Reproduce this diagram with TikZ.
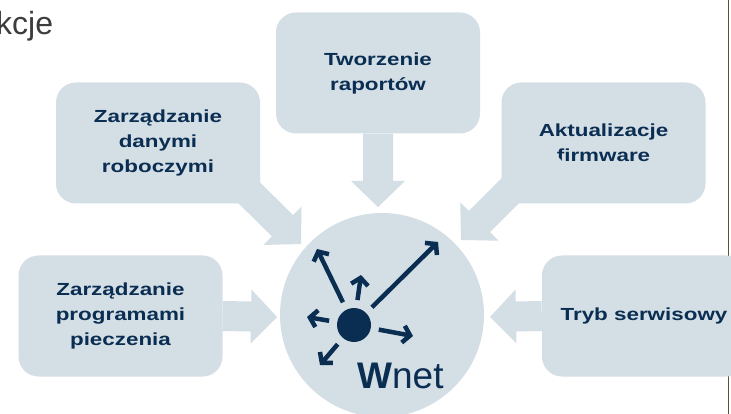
\documentclass[tikz,border=0pt]{standalone}
\usepackage{fontspec}
\setmainfont{Liberation Sans}
\newfontfamily\wideface{Liberation Sans}[FakeStretch=1.28]
\usetikzlibrary{calc,arrows.meta}
\definecolor{paleblue}{RGB}{212,222,229}
\definecolor{navyblue}{RGB}{10,45,82}
\definecolor{titlegray}{RGB}{60,60,60}
\definecolor{edgebrown}{RGB}{95,80,62}
\def\blockarrow(#1)(#2){%
	\path ($(#2)!26pt!(#1)$) coordinate (hb);
	\fill[paleblue] ($(#1)!15pt!90:(#2)$) -- ($(hb)!15pt!90:(#2)$) -- ($(hb)!27pt!90:(#2)$) -- (#2)
		-- ($(hb)!27pt!-90:(#2)$) -- ($(hb)!15pt!-90:(#2)$) -- ($(#1)!15pt!-90:(#2)$) -- cycle;}

\begin{document}
\begin{tikzpicture}[x=1pt, y=-1pt,
	box/.style={rectangle, rounded corners=20pt, fill=paleblue, minimum width=204pt, minimum height=121pt,
		align=center, text=navyblue, font=\wideface\bfseries\fontsize{17.5}{25}\selectfont},
	ray/.style={navyblue, line width=4.5pt, -{Straight Barb[length=7pt,width=17pt]}, shorten <=8pt}]
		%%%%% START %%%%%
		\useasboundingbox (0,0) rectangle (731,414);
		\clip (0,0) rectangle (731,414);
		\fill[white] (0,0) rectangle (731,414);
		
		\node[anchor=base west, inner sep=0, text=titlegray, font=\fontsize{32}{32}\selectfont] (title) at (-4,35) {kcje};
		\draw[line width=1.2pt, edgebrown] (728.6,0) -- (728.6,414);
		
		\node[box] (reports) at (378,73) {Tworzenie\\raportów};
		\node[box] (workdata) at (158,143) {Zarządzanie\\danymi\\roboczymi};
		\node[box] (firmware) at (603.5,143) {Aktualizacje\\firmware};
		\node[box] (programs) at (120.5,316) {Zarządzanie\\programami\\pieczenia};
		\node[box] (service) at (644,316) {Tryb serwisowy};
		
		\coordinate (reportstip) at (378,207);
		\coordinate (workdatafoot) at (222,166);
		\coordinate (workdatatip) at (301,244);
		\coordinate (firmwarefoot) at (551,150);
		\coordinate (firmwaretip) at (461,240);
		\coordinate (programstip) at (277,317);
		\coordinate (servicetip) at (490,317);
		
		\blockarrow(reports.south)(reportstip)
		\blockarrow(workdatafoot)(workdatatip)
		\blockarrow(firmwarefoot)(firmwaretip)
		\blockarrow(programs.east)(programstip)
		\blockarrow(service.west)(servicetip)
		
		\fill[paleblue] (382,315) circle (102);
		\node[circle, fill=navyblue, minimum size=34pt, inner sep=0] (hub) at (354,325) {};
		
		\coordinate (rayA) at (438,242);
		\coordinate (rayB) at (317,249);
		\coordinate (rayC) at (361,275);
		\coordinate (rayD) at (307,317);
		\coordinate (rayE) at (320,365);
		\coordinate (rayF) at (413,336);
		\foreach \t in {rayA,rayB,rayC,rayD,rayE,rayF}
			\draw[ray] (hub) -- (\t);
		
		\node[anchor=base west, inner sep=0, text=navyblue, font=\fontsize{37}{37}\selectfont] (brand) at (357,388) {\textbf{W}net};
		%%%%% END %%%%%
\end{tikzpicture}
\end{document}
